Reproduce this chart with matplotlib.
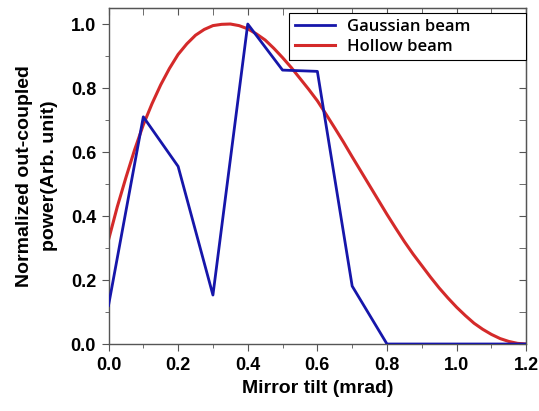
import matplotlib
matplotlib.use('Agg')
import matplotlib.pyplot as plt
from matplotlib.ticker import MultipleLocator

# Gaussian beam, measured points
tilt_gauss = [0.0, 0.1, 0.2, 0.3, 0.4, 0.5, 0.6, 0.7, 0.8, 0.9, 1.0, 1.1, 1.2]
power_gauss = [0.12, 0.71, 0.555, 0.153, 1.0, 0.856, 0.852, 0.181, 0.0, 0.0, 0.0, 0.0, 0.0]

# Hollow beam
tilt_hollow = [0.0, 0.025, 0.05, 0.075, 0.1, 0.125, 0.15, 0.175, 0.2, 0.225, 0.25, 0.275,
               0.3, 0.325, 0.35, 0.375, 0.4, 0.425, 0.45, 0.475, 0.5, 0.525, 0.55, 0.575,
               0.6, 0.625, 0.65, 0.675, 0.7, 0.725, 0.75, 0.775, 0.8, 0.825, 0.85, 0.875,
               0.9, 0.925, 0.95, 0.975, 1.0, 1.025, 1.05, 1.075, 1.1, 1.125, 1.15, 1.175, 1.2]
power_hollow = [0.325, 0.428, 0.52, 0.607, 0.685, 0.751, 0.81, 0.861, 0.905, 0.938, 0.965, 0.983,
                0.995, 0.999, 1.0, 0.995, 0.985, 0.969, 0.95, 0.924, 0.895, 0.864, 0.83, 0.796,
                0.76, 0.718, 0.675, 0.631, 0.585, 0.540, 0.495, 0.450, 0.405, 0.362, 0.32, 0.281,
                0.245, 0.209, 0.175, 0.144, 0.115, 0.089, 0.065, 0.046, 0.03, 0.017, 0.008, 0.002, 0.0]

plt.rcParams['font.family'] = ['Liberation Sans', 'DejaVu Sans']

fig = plt.figure(figsize=(5.39, 4.11), dpi=100)
ax = fig.add_axes([0.2013, 0.163, 0.775, 0.8175])

ax.plot(tilt_gauss, power_gauss, color='#1616aa', lw=2, label='Gaussian beam', zorder=3)
ax.plot(tilt_hollow, power_hollow, color='#d42a2a', lw=2.2, label='Hollow beam', zorder=2)

ax.set_xlim(0, 1.2)
ax.set_ylim(0, 1.05)
ax.xaxis.set_major_locator(MultipleLocator(0.2))
ax.xaxis.set_minor_locator(MultipleLocator(0.1))
ax.yaxis.set_major_locator(MultipleLocator(0.2))
ax.yaxis.set_minor_locator(MultipleLocator(0.1))

ax.tick_params(which='both', direction='out', top=False, right=False, color='#555555')
ax.tick_params(which='major', length=5, labelsize=13, pad=4)
ax.tick_params(which='minor', length=3)
for lab in ax.get_xticklabels() + ax.get_yticklabels():
    lab.set_fontweight('bold')

# top and right: inward ticks without labels
ax2 = ax.secondary_xaxis('top')
ax2.xaxis.set_major_locator(MultipleLocator(0.2))
ax2.xaxis.set_minor_locator(MultipleLocator(0.1))
ax2.tick_params(which='both', direction='in', labeltop=False, color='#555555', length=5)
ax3 = ax.secondary_yaxis('right')
ax3.yaxis.set_major_locator(MultipleLocator(0.2))
ax3.yaxis.set_minor_locator(MultipleLocator(0.1))
ax3.tick_params(which='both', direction='in', labelright=False, color='#555555', length=5)

for s in ax.spines.values():
    s.set_color('#555555')
    s.set_linewidth(1.0)
ax2.spines['top'].set_color('#555555')
ax3.spines['right'].set_color('#555555')

ax.set_xlabel('Mirror tilt (mrad)', fontsize=14, fontweight='bold', labelpad=5)
ax.set_ylabel('Normalized out-coupled\npower(Arb. unit)', fontsize=14, fontweight='bold',
              labelpad=9, linespacing=1.6, multialignment='center')

leg = ax.legend(loc='upper left', bbox_to_anchor=(0.433, 0.85, 0.567, 0.134), mode='expand',
                fancybox=False, edgecolor='black', framealpha=1, borderaxespad=0,
                prop={'family': 'Open Sans', 'size': 12, 'weight': 'semibold'},
                handlelength=2.4, labelspacing=0.2, borderpad=0.35, handletextpad=0.7)
leg.get_frame().set_linewidth(0.8)

fig.savefig('out.png', dpi=100)
